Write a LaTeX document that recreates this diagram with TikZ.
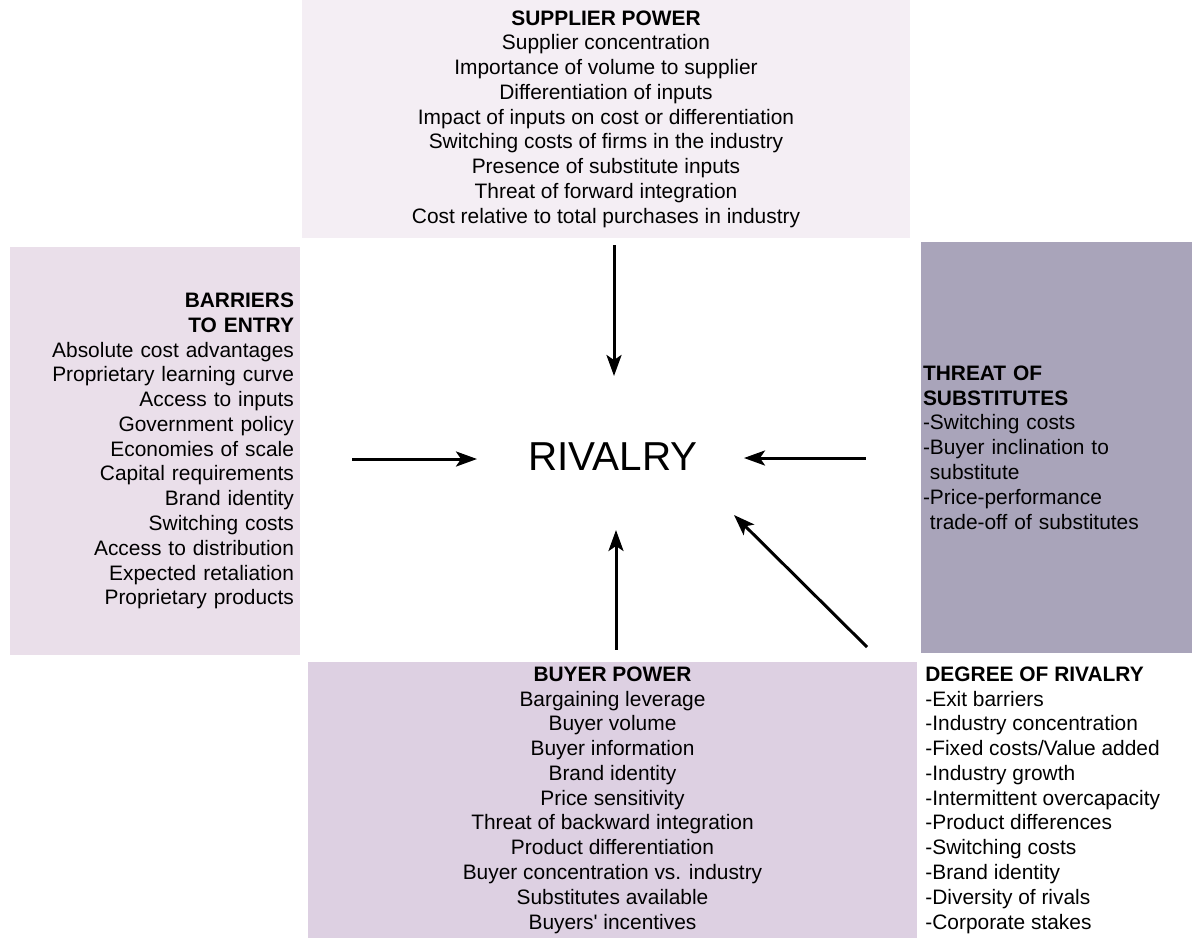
\documentclass[tikz,border=0pt]{standalone}
\usepackage{fontspec}
\setmainfont{Liberation Sans}
\usepackage{tikz}
\usetikzlibrary{arrows.meta}
\usetikzlibrary{calc}

\definecolor{supfill}{HTML}{F4EEF4}
\definecolor{barrfill}{HTML}{EADFEA}
\definecolor{substfill}{HTML}{A9A4BA}
\definecolor{buyfill}{HTML}{DDD0E2}

\begin{document}
\begin{tikzpicture}[x=0.02cm, y=-0.02cm,
  every node/.style={font=\fontsize{11.9pt}{14.1pt}\selectfont},
  box/.style={inner sep=0pt},
  force/.style={line width=1.7pt, -{Stealth[length=0.42cm,width=0.3cm,inset=0.1cm]}}]
\useasboundingbox (0,0) rectangle (1197,938);

% Supplier power
\node[box, fill=supfill, minimum width=12.16cm, minimum height=4.76cm, align=center]
  (sup) at (606,119)
  {\textbf{SUPPLIER POWER}\\ Supplier concentration\\ Importance of volume to supplier\\
   Differentiation of inputs\\ Impact of inputs on cost or differentiation\\
   Switching costs of firms in the industry\\ Presence of substitute inputs\\
   Threat of forward integration\\ Cost relative to total purchases in industry};

% Barriers to entry
\node[box, fill=barrfill, minimum height=8.16cm, inner xsep=0.12cm, text width=5.56cm, align=right]
  (barr) at (155,451)
  {\textbf{BARRIERS}\\ \textbf{TO ENTRY}\\ Absolute cost advantages\\ Proprietary learning curve\\
   Access to inputs\\ Government policy\\ Economies of scale\\ Capital requirements\\
   Brand identity\\ Switching costs\\ Access to distribution\\ Expected retaliation\\
   Proprietary products};

% Threat of substitutes
\node[box, fill=substfill, minimum height=8.22cm, inner xsep=0.04cm, text width=5.34cm, align=left]
  (subst) at (1056.5,447.5)
  {\textbf{THREAT OF}\\ \textbf{SUBSTITUTES}\\ -Switching costs\\ -Buyer inclination to\\
   \hphantom{-}substitute\\ -Price-performance\\ \hphantom{-}trade-off of substitutes};

% Buyer power
\node[box, fill=buyfill, minimum width=12.18cm, minimum height=5.52cm, align=center]
  (buyer) at (612.5,800)
  {\textbf{BUYER POWER}\\ Bargaining leverage\\ Buyer volume\\ Buyer information\\
   Brand identity\\ Price sensitivity\\ Threat of backward integration\\
   Product differentiation\\ Buyer concentration vs. industry\\ Substitutes available\\
   Buyers\textquotesingle{} incentives};

% Degree of rivalry
\node[box, anchor=west, align=left] (degree) at (925,800)
  {\textbf{DEGREE OF RIVALRY}\\ -Exit barriers\\ -Industry concentration\\
   -Fixed costs/Value added\\ -Industry growth\\ -Intermittent overcapacity\\
   -Product differences\\ -Switching costs\\ -Brand identity\\ -Diversity of rivals\\
   -Corporate stakes};

% Rivalry
\node[box, font=\fontsize{23pt}{27pt}\selectfont] (riv) at (613,457) {RIVALRY};

\coordinate (tip-sup) at (614,376);
\coordinate (tip-barr) at (477,459);
\coordinate (tip-subst) at (744,458);
\coordinate (tip-buyer) at (616,530);
\coordinate (tip-degree) at (734,515);
\coordinate (tail-degree) at (867,647);

\draw[force, shorten <=0.14cm] (sup.south -| tip-sup) -- (tip-sup);
\draw[force, shorten <=1.04cm] (barr.east |- tip-barr) -- (tip-barr);
\draw[force, shorten <=1.1cm] (subst.west |- tip-subst) -- (tip-subst);
\draw[force, shorten <=0.24cm] (buyer.north -| tip-buyer) -- (tip-buyer);
\draw[force] (tail-degree) -- (tip-degree);
\end{tikzpicture}
\end{document}
